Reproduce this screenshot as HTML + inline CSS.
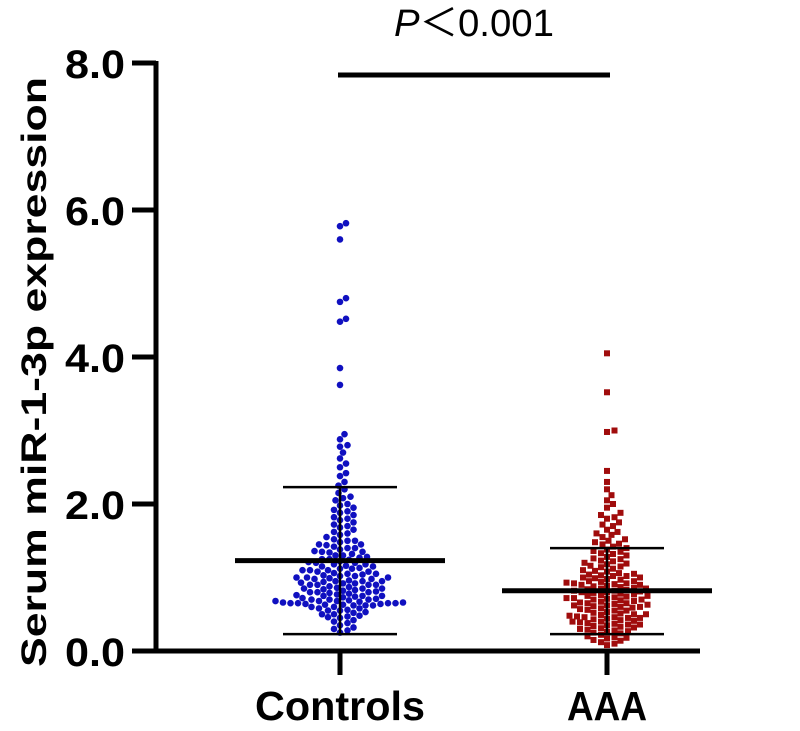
<!DOCTYPE html>
<html><head><meta charset="utf-8"><style>
html,body{margin:0;padding:0;background:#fff}
svg text{font-family:"Liberation Sans",Arial,sans-serif;font-weight:bold}
</style></head><body>
<svg id="chart" width="800" height="726" viewBox="0 0 800 726" xmlns="http://www.w3.org/2000/svg">
<g id="axes"></g>
<g id="points"></g>
<g id="stats"></g>
</svg>
<script>
const categories = ["Controls","AAA"];
const yTicks = [0,2,4,6,8];
const yTickLabels = ["0.0","2.0","4.0","6.0","8.0"];
const controlsMean = 1.23, controlsUpper = 2.23, controlsLower = 0.23;
const aaaMean = 0.82, aaaUpper = 1.40, aaaLower = 0.23;
const controlsValues = [5.82,5.78,5.6,4.8,4.75,4.52,4.48,3.85,3.62,2.95,2.88,2.8,2.78,2.7,2.62,2.55,2.5,2.42,2.38,2.3,2.25,2.2,2.15,2.1,2.08,2.05,2.0,1.98,1.95,1.92,1.9,1.88,1.85,1.82,1.8,1.78,1.75,1.72,1.7,1.68,1.65,1.62,1.6,1.58,1.55,1.52,1.5,1.5,1.48,1.45,1.45,1.42,1.4,1.4,1.38,1.35,1.35,1.32,1.3,1.3,1.28,1.25,1.25,1.22,1.2,1.2,1.18,1.15,1.15,1.12,1.1,1.1,1.1,1.08,1.05,1.05,1.02,1.0,1.0,1.0,0.98,0.95,0.95,0.95,0.92,0.9,0.9,0.9,0.88,0.85,0.85,0.85,0.82,0.8,0.8,0.8,0.78,0.75,0.75,0.75,0.72,0.7,0.7,0.7,0.68,0.68,0.66,0.65,0.65,0.65,0.64,0.63,0.62,0.62,0.6,0.6,0.58,0.56,0.55,0.55,0.52,0.5,0.5,0.48,0.46,0.45,0.42,0.4,0.38,0.35,0.32,0.3,0.28,0.25,1.12,1.06,0.98,0.93,0.87,0.83,0.77,0.73,0.69,0.66,0.64,0.62,1.24,1.18,1.08,1.02,0.96,0.9,0.86,0.79,0.71,0.67,1.34,1.27,1.16,1.04,0.99,0.92,0.84,0.76,0.68,0.65,1.44,1.36,1.21,1.13,1.03,0.94,0.81,0.74,0.63,0.58,0.53,0.47];
const aaaValues = [4.05,3.52,3.0,2.98,2.45,2.3,2.2,2.12,2.05,2.0,1.95,1.88,1.85,1.82,1.8,1.75,1.72,1.7,1.65,1.62,1.6,1.58,1.55,1.52,1.5,1.48,1.45,1.42,1.4,1.38,1.35,1.32,1.3,1.28,1.25,1.22,1.2,1.18,1.15,1.12,1.1,1.08,1.05,1.02,1.0,1.0,0.98,0.95,0.95,0.92,0.9,0.9,0.88,0.85,0.85,0.82,0.8,0.8,0.78,0.75,0.75,0.72,0.7,0.7,0.68,0.65,0.65,0.62,0.6,0.6,0.58,0.55,0.55,0.52,0.5,0.5,0.48,0.46,0.45,0.44,0.42,0.4,0.4,0.38,0.36,0.35,0.34,0.32,0.3,0.28,0.26,0.25,0.22,0.2,0.18,0.15,0.12,0.1,0.08,1.14,1.06,0.97,0.91,0.86,0.79,0.73,0.69,0.63,0.57,0.51,0.47,0.43,0.37,0.31,1.26,1.16,1.03,0.93,0.87,0.81,0.76,0.71,0.66,0.61,0.53,0.45,0.41,0.33,0.24,1.36,1.23,1.09,0.99,0.89,0.83,0.77,0.67,0.59,0.49,0.39,0.29,0.19,0.14,1.46,1.33,1.19,1.04,0.94,0.84,0.74,0.64,0.56,0.46,0.36,0.27,0.17,0.62,0.72,0.82,0.92,1.02];

const NS="http://www.w3.org/2000/svg";
const y0=651, yTop=63, yMax=8;
function yScale(v){return y0-(v/yMax)*(y0-yTop);}
const xCenters=[340,607];
function xScale(i){return xCenters[i];}
function mk(tag,attrs,parent){const e=document.createElementNS(NS,tag);for(const k in attrs)e.setAttribute(k,attrs[k]);parent.appendChild(e);return e;}
const axes=document.getElementById('axes');
let l=mk('line',{x1:156,y1:yTop-2,x2:156,y2:y0,stroke:'#000','stroke-width':5},axes);


l=mk('line',{x1:132,y1:y0,x2:700,y2:y0,stroke:'#000','stroke-width':5},axes);


yTicks.forEach((t,i)=>{
  const y=yScale(t);
  const tk=mk('line',{x1:132,y1:y,x2:156,y2:y,stroke:'#000','stroke-width':5},axes);
  
  
  const tx=mk('text',{x:65,y:y+15,'font-size':40,textLength:60,lengthAdjust:'spacingAndGlyphs'},axes);
  tx.textContent=yTickLabels[i];
  
  
});
const xLabW=[170,80];
categories.forEach((c,i)=>{
  const x=xScale(i);
  const tk=mk('line',{x1:x,y1:y0,x2:x,y2:y0+24,stroke:'#000','stroke-width':5},axes);
  
  
  const tx=mk('text',{x:x-xLabW[i]/2,y:720,'font-size':41,textLength:xLabW[i],lengthAdjust:'spacingAndGlyphs'},axes);
  tx.textContent=c;
  
  
});
const yl=mk('text',{x:-295,y:0,'font-size':35,textLength:590,lengthAdjust:'spacingAndGlyphs',transform:'translate(46,372) rotate(-90)'},axes);
yl.textContent='Serum miR-1-3p expression';



const pts=document.getElementById('points');
function swarm(vals,ci,color,square){
  const placed=[];const d=6.6;const sorted=vals.slice().sort((a,b)=>a-b);
  const cx=xScale(ci);
  sorted.forEach(v=>{
    const y=yScale(v);let off=0;
    for(let k=0;k<200;k++){
      const o=(k%2?1:-1)*Math.ceil(k/2)*1.5;
      if(placed.every(p=>(p[0]-o)**2+(p[1]-y)**2>=d*d)){off=o;break;}
    }
    placed.push([off,y]);
    let e;
    if(square){e=mk('rect',{x:cx+off-3,y:y-3,width:6,height:6,fill:color},pts);}
    else{e=mk('circle',{cx:cx+off,cy:y,r:3.3,fill:color},pts);}
    
    
  });
}
swarm(controlsValues,0,'#1010c0',false);
swarm(aaaValues,1,'#a00c0c',true);

const st=document.getElementById('stats');
function summary(ci,mean,up,lo,name){
  const x=xScale(ci);
  let e=mk('line',{x1:x-105,y1:yScale(mean),x2:x+105,y2:yScale(mean),stroke:'#000','stroke-width':5},st);
  
  
  e=mk('line',{x1:x,y1:yScale(lo),x2:x,y2:yScale(up),stroke:'#000','stroke-width':2.5},st);
  
  
  [up,lo].forEach(v=>{
    const c=mk('line',{x1:x-57,y1:yScale(v),x2:x+57,y2:yScale(v),stroke:'#000','stroke-width':2.5},st);
    
    
  });
}
summary(0,controlsMean,controlsUpper,controlsLower,'controls');
summary(1,aaaMean,aaaUpper,aaaLower,'aaa');
let s=mk('line',{x1:338,y1:75,x2:610,y2:75,stroke:'#000','stroke-width':5},st);


const pt=mk('text',{x:394,y:36,'font-size':38,textLength:160,lengthAdjust:'spacingAndGlyphs'},st);
pt.setAttribute('style','font-weight:normal;font-family:"Liberation Sans","Noto Sans CJK SC",sans-serif');
pt.innerHTML='<tspan font-style="italic">P</tspan>＜0.001';


</script>
</body></html>
